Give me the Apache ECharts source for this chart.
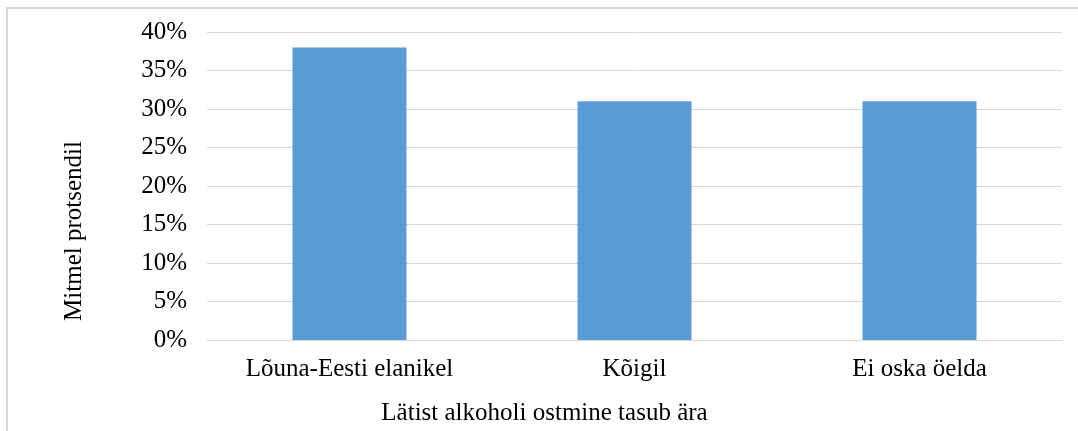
<!DOCTYPE html>
<html><head><meta charset="utf-8">
<script src="https://cdn.jsdelivr.net/npm/echarts@6/dist/echarts.min.js"></script>
<style>html,body{margin:0;padding:0;background:#fff}#c{width:1078px;height:431px}</style>
</head><body><div id="c"></div>
<script>
const categories = ["Lõuna-Eesti elanikel", "Kõigil", "Ei oska öelda"];
const values = [0.38, 0.31, 0.31];
const yTicks = [0, 0.05, 0.10, 0.15, 0.20, 0.25, 0.30, 0.35, 0.40];
const xTitle = "Lätist alkoholi ostmine tasub ära";
const yTitle = "Mitmel protsendil";

const font = "'Liberation Serif', 'Times New Roman', serif";
const chart = echarts.init(document.getElementById('c'));
chart.setOption({
  animation: false,
  backgroundColor: '#fff',
  graphic: [{
    type: 'rect', shape: {x: 7, y: 8, width: 1200, height: 600},
    style: {fill: 'none', stroke: '#d9d9d9', lineWidth: 2}, silent: true
  }],
  grid: {left: 207, right: 16, top: 32, bottom: 91},
  xAxis: {
    type: 'category', data: categories,
    axisLine: {show: true, lineStyle: {color: '#d9d9d9', width: 1}},
    axisTick: {show: false},
    axisLabel: {color: '#000', fontFamily: font, fontSize: 25, margin: 17},
    name: xTitle, nameLocation: 'middle', nameGap: 61,
    nameTextStyle: {color: '#000', fontFamily: font, fontSize: 25, padding: [0, 180, 0, 0]}
  },
  yAxis: {
    type: 'value', min: yTicks[0], max: yTicks[yTicks.length - 1], interval: 0.05,
    axisLine: {show: false}, axisTick: {show: false},
    splitLine: {lineStyle: {color: '#d9d9d9', width: 1}},
    axisLabel: {color: '#000', fontFamily: font, fontSize: 25, margin: 20,
      formatter: v => Math.round(v * 100) + '%'},
    name: yTitle, nameLocation: 'middle', nameGap: 120, nameRotate: 90,
    nameTextStyle: {color: '#000', fontFamily: font, fontSize: 25, padding: [0, 90, 0, 0]}
  },
  series: [{
    type: 'bar', data: values, barWidth: '40%',
    itemStyle: {color: '#5B9BD5'}
  }]
});
</script></body></html>
